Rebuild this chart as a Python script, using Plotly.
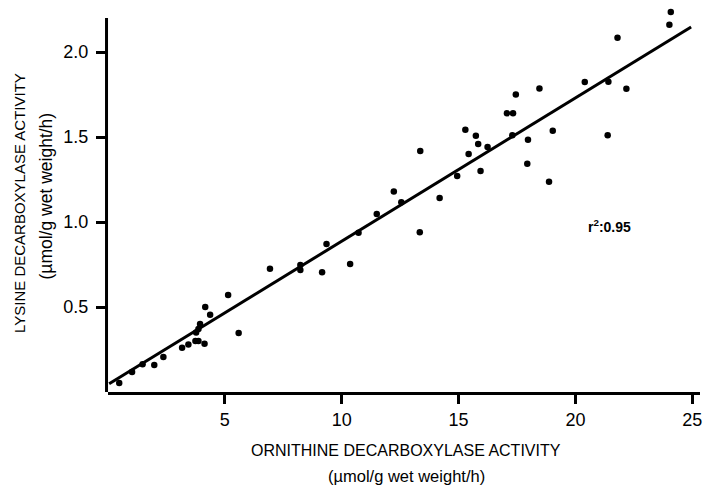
import plotly.graph_objects as go

# Ornithine decarboxylase activity (x) vs lysine decarboxylase activity (y)
odc = [0.48, 1.03, 1.48, 1.98, 2.37, 3.17, 3.44, 3.74, 3.87, 4.13, 3.94, 3.87, 3.77,
       4.16, 4.37, 5.59, 5.14, 6.93, 8.23, 8.23, 9.16, 9.35, 10.36, 10.72, 11.5,
       12.23, 12.55, 13.36, 13.34, 14.19, 14.94, 15.94, 15.43, 15.29, 15.74, 15.84,
       16.24, 17.07, 17.33, 17.3, 17.45, 17.97, 17.94, 18.46, 19.03, 18.87, 20.4,
       21.38, 21.41, 22.18, 21.8, 24.02, 24.08]
ldc = [0.053, 0.118, 0.163, 0.159, 0.206, 0.26, 0.28, 0.30, 0.30, 0.284, 0.40, 0.37, 0.35,
       0.50, 0.455, 0.347, 0.57, 0.725, 0.747, 0.718, 0.704, 0.87, 0.753, 0.937, 1.047,
       1.18, 1.116, 1.418, 0.94, 1.141, 1.27, 1.30, 1.40, 1.543, 1.508, 1.459,
       1.441, 1.639, 1.639, 1.51, 1.75, 1.484, 1.343, 1.786, 1.537, 1.237, 1.824,
       1.51, 1.825, 1.784, 2.084, 2.16, 2.235]

fit_intercept = 0.044
fit_slope = 0.0843
fit_x = [0.05, 24.95]
fit_y = [fit_intercept + fit_slope * v for v in fit_x]

x_ticks = [5, 10, 15, 20, 25]
y_ticks = [0.5, 1.0, 1.5, 2.0]
y_axis_top = 2.2

FONT = "Liberation Sans, Arial, sans-serif"

fig = go.Figure()
fig.add_trace(go.Scatter(x=fit_x, y=fit_y, mode="lines",
                         line=dict(color="black", width=3), cliponaxis=False,
                         hoverinfo="skip", showlegend=False))
fig.add_trace(go.Scatter(x=odc, y=ldc, mode="markers",
                         marker=dict(color="black", size=6.5), cliponaxis=False,
                         showlegend=False))

# vertical axis line (stops below the top of the plot area, as in the original)
fig.add_shape(type="line", xref="paper", yref="y", x0=-0.0025, x1=-0.0025,
              y0=-0.01, y1=y_axis_top, line=dict(color="black", width=3))

plot_top_px = 4
plot_bottom_px = 392
px_per_unit_y = 170.0

fig.update_layout(
    width=705, height=486,
    margin=dict(l=108, r=5, t=plot_top_px, b=486 - plot_bottom_px),
    plot_bgcolor="white", paper_bgcolor="white",
    font=dict(family=FONT, color="black"),
    xaxis=dict(range=[0, 25.33], tickvals=x_ticks, ticktext=[str(v) for v in x_ticks],
               showgrid=False, zeroline=False, showline=True, linecolor="black",
               linewidth=3, ticks="outside", tickwidth=2.5, ticklen=9, tickcolor="black",
               tickfont=dict(size=18, family=FONT)),
    yaxis=dict(range=[0, (plot_bottom_px - plot_top_px) / px_per_unit_y],
               tickvals=y_ticks, ticktext=[f"{v:.1f}" for v in y_ticks],
               showgrid=False, zeroline=False, showline=False,
               ticks="outside", tickwidth=2.5, ticklen=11, tickcolor="black",
               ticklabelstandoff=4, tickfont=dict(size=18, family=FONT)),
)

H = plot_bottom_px - plot_top_px
def py(win_y):
    return (plot_bottom_px - win_y) / H

def px(win_x):
    return (win_x - 108) / (705 - 5 - 108)

fig.update_layout(annotations=[
    dict(text="ORNITHINE DECARBOXYLASE ACTIVITY", xref="paper", yref="paper",
         x=px(405.5), y=py(451), xanchor="center", yanchor="middle", showarrow=False,
         font=dict(size=16, family=FONT)),
    dict(text="(µmol/g wet weight/h)", xref="paper", yref="paper",
         x=px(406), y=py(476), xanchor="center", yanchor="middle", showarrow=False,
         font=dict(size=16.5, family=FONT)),
    dict(text="LYSINE DECARBOXYLASE ACTIVITY", xref="paper", yref="paper",
         x=px(20), y=py(203), xanchor="center", yanchor="middle", showarrow=False,
         textangle=-90, font=dict(size=15, family=FONT)),
    dict(text="(µmol/g wet weight/h)", xref="paper", yref="paper",
         x=px(45), y=py(196.5), xanchor="center", yanchor="middle", showarrow=False,
         textangle=-90, font=dict(size=17.5, family=FONT)),
    dict(text="<b>r<sup>2</sup>:0.95</b>", xref="x", yref="y", x=21.44, y=0.976,
         xanchor="center", yanchor="middle", showarrow=False,
         font=dict(size=14, family=FONT)),
])

fig.write_html("out.html", config={"displayModeBar": False},
               post_script="document.body.style.margin='0';document.body.style.overflow='hidden';")
